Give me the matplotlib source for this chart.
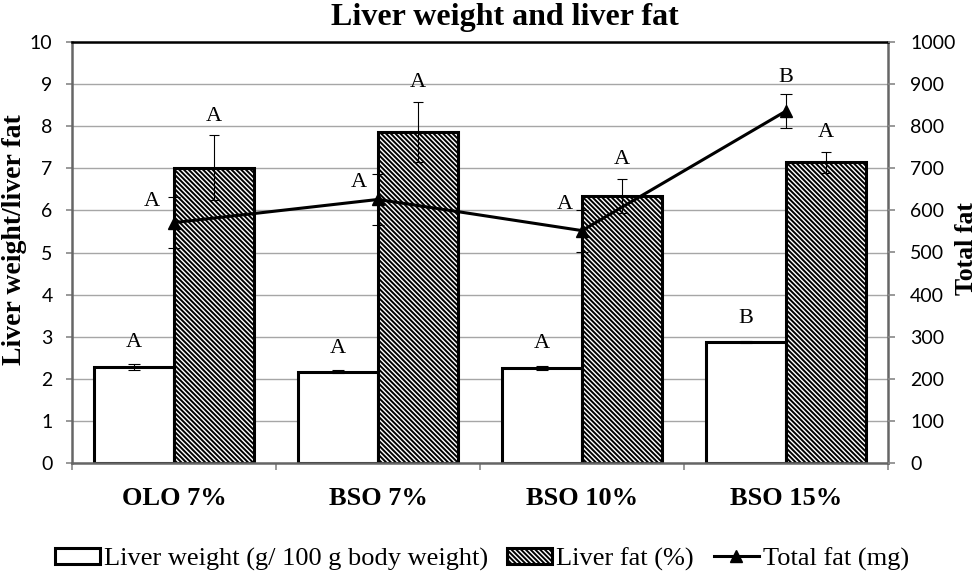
import numpy as np
import matplotlib
matplotlib.use("Agg")
import matplotlib.pyplot as plt
from matplotlib.lines import Line2D

# values
groups = ['OLO 7%', 'BSO 7%', 'BSO 10%', 'BSO 15%']
liver_weight = [2.27, 2.17, 2.26, 2.87]
liver_weight_err = [0.07, 0.03, 0.04, 0.03]
liver_fat = [7.01, 7.86, 6.34, 7.14]
liver_fat_err = [0.77, 0.71, 0.41, 0.25]
total_fat = [571, 626, 552, 836]
total_fat_err = [60, 60, 50, 40]

lw_letters = ['A', 'A', 'A', 'B']
lf_letters = ['A', 'A', 'A', 'A']
tf_letters = ['A', 'A', 'A', 'B']
# label offsets (points) for the total fat letters
tf_label_offsets = [(-16, 15), (-14, 12), (-12, 19), (0, 24)]

serif = 'Liberation Serif'
plt.rcParams['hatch.linewidth'] = 1.4

W, H = 979, 578
fig = plt.figure(figsize=(W / 100, H / 100), dpi=100)
ax = fig.add_axes([72 / W, 1 - 463 / H, (888 - 72) / W, (463 - 42) / H])

x = np.arange(len(groups))
bw = 0.39
err_kw = dict(ecolor='black', elinewidth=0.8, capthick=0.8)
hatch = '\\' * 7

b1 = ax.bar(x - bw / 2, liver_weight, bw, color='white', edgecolor='black',
            linewidth=2.2, yerr=liver_weight_err, capsize=4, error_kw=err_kw, zorder=2)
b2 = ax.bar(x + bw / 2, liver_fat, bw, color='white', edgecolor='black',
            linewidth=2.2, hatch=hatch, yerr=liver_fat_err, capsize=3.5,
            error_kw=err_kw, zorder=2)

ax.set_ylim(0, 10)
ax.set_xlim(-0.5, len(groups) - 0.5)
ax.set_yticks(range(0, 11))
ax.yaxis.grid(True, color='#a6a6a6', linewidth=1.0, zorder=0)
ax.set_axisbelow(True)

ax.set_xticks(np.arange(-0.5, len(groups)), labels=[''] * (len(groups) + 1))
ax.tick_params(axis='x', which='major', length=5, color='#888888', width=1.2)
ax.set_xticks(x, minor=True)
ax.set_xticklabels(groups, minor=True, fontfamily=serif, fontweight='bold', fontsize=19)
ax.tick_params(axis='x', which='minor', length=0, pad=17)
ax.tick_params(axis='y', length=4, color='#888888', width=1.2, pad=10, labelsize=14)
for lab in ax.get_yticklabels():
    lab.set_fontfamily('Lato')

for s in ['left', 'bottom', 'right']:
    ax.spines[s].set_color('#666666')
    ax.spines[s].set_linewidth(1.8)
ax.spines['top'].set_color('black')
ax.spines['top'].set_linewidth(1.8)

ax2 = ax.twinx()
ax2.set_ylim(0, 1000)
ax2.set_yticks(range(0, 1001, 100))
ax2.tick_params(axis='y', length=5, color='#888888', width=1.2, pad=11, labelsize=14)
for lab in ax2.get_yticklabels():
    lab.set_fontfamily('Lato')
for s in ax2.spines.values():
    s.set_visible(False)
ax2.errorbar(x, total_fat, yerr=total_fat_err, color='black', linewidth=2.2,
             marker='^', markersize=8, capsize=4, elinewidth=0.8, capthick=0.8,
             zorder=3)
ln = Line2D([], [], color='black', linewidth=2.2, marker='^', markersize=8)

# significance letters
for i in range(len(groups)):
    ax.annotate(lw_letters[i], (x[i] - bw / 2, liver_weight[i] + liver_weight_err[i]),
                xytext=(0, 16), textcoords='offset points', ha='center', va='center',
                fontfamily=serif, fontsize=16)
    ax.annotate(lf_letters[i], (x[i] + bw / 2, liver_fat[i] + liver_fat_err[i]),
                xytext=(0, 14), textcoords='offset points', ha='center', va='center',
                fontfamily=serif, fontsize=16)
    ax2.annotate(tf_letters[i], (x[i], total_fat[i]),
                 xytext=tf_label_offsets[i], textcoords='offset points', ha='center',
                 va='center', fontfamily=serif, fontsize=16)

fig.text(505 / W, 1 - 25 / H, 'Liver weight and liver fat', ha='center', va='baseline',
         fontfamily=serif, fontweight='bold', fontsize=23)
fig.text(21 / W, 1 - 240 / H, 'Liver weight/liver fat', rotation=90, rotation_mode='anchor',
         ha='center', va='baseline', fontfamily=serif, fontweight='bold', fontsize=20)
fig.text(973 / W, 1 - 249 / H, 'Total fat', rotation=90, rotation_mode='anchor',
         ha='center', va='baseline', fontfamily=serif, fontweight='bold', fontsize=18.5)

fig.legend([b1, b2, ln],
           ['Liver weight (g/ 100 g body weight)', 'Liver fat (%)', 'Total fat (mg)'],
           loc='center', bbox_to_anchor=(0.492, 1 - 559 / H), ncol=3, frameon=False,
           prop={'family': serif, 'size': 19}, handlelength=1.7, handletextpad=0.15,
           columnspacing=0.75, handleheight=0.6)

fig.savefig('out.png', dpi=100)
